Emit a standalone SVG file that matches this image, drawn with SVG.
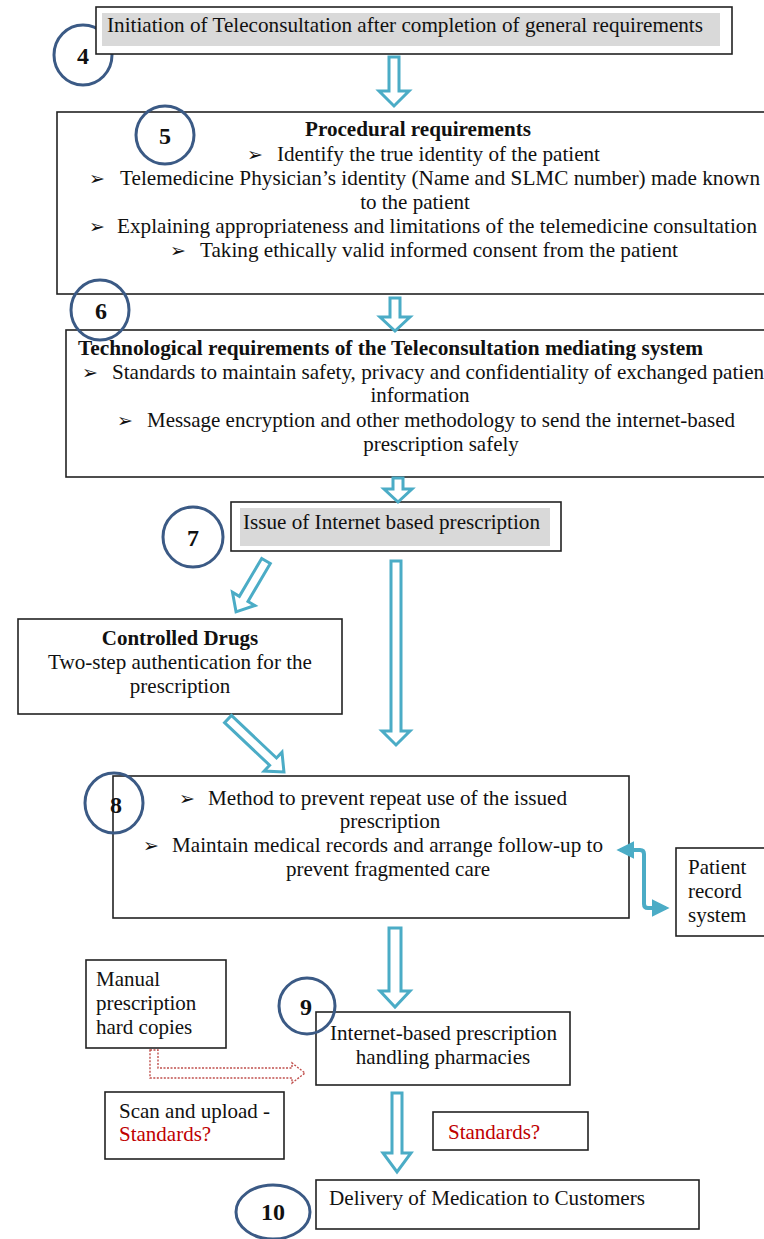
<svg xmlns="http://www.w3.org/2000/svg" width="764" height="1239" viewBox="0 0 764 1239">
<style>
.box{fill:#fff;stroke:#222;stroke-width:1.6}
.gray{fill:#d9d9d9}
.t{font-family:"Liberation Serif","Times New Roman",serif;font-size:21px;fill:#111}
.b{font-weight:bold}
.c{text-anchor:middle}
.red{fill:#c00000}
.bul{font-family:"DejaVu Sans",sans-serif;font-size:19px;fill:#111}
.num{font-family:"Liberation Serif",serif;font-size:24px;font-weight:bold;fill:#111;text-anchor:middle}
.circ{fill:none;stroke:#3b5a85;stroke-width:3}
.arr{fill:#fff;stroke:#4bacc6;stroke-width:3;stroke-linejoin:miter}
.conn{fill:none;stroke:#4bacc6;stroke-width:4}
.dot{fill:none;stroke:#c0504d;stroke-width:1.4;stroke-dasharray:2 1.5}
</style>
<defs>
<marker id="tri" viewBox="0 0 10 10" refX="8" refY="5" markerWidth="4.5" markerHeight="4.5" orient="auto-start-reverse" markerUnits="strokeWidth">
<path d="M0,0 L10,5 L0,10 Z" fill="#4bacc6"/>
</marker>
</defs>

<g id="n4">
<ellipse class="circ" cx="83" cy="55" rx="29" ry="30"/>
<text class="num" x="83" y="64">4</text>
<rect class="box" x="96" y="7" width="636" height="47"/>
<rect class="gray" x="102" y="13" width="618" height="33"/>
<text class="t" x="107" y="32" textLength="596" lengthAdjust="spacingAndGlyphs">Initiation of Teleconsultation after completion of general requirements</text>
</g>

<g id="n5">
<rect class="box" x="57" y="112" width="720" height="182"/>
<ellipse class="circ" cx="165" cy="135" rx="29" ry="29"/>
<text class="num" x="165" y="144">5</text>
<text class="t b" x="305" y="136" textLength="226" lengthAdjust="spacingAndGlyphs">Procedural requirements</text>
<text class="bul" x="247" y="161">➢</text>
<text class="t" x="277" y="161" textLength="323" lengthAdjust="spacingAndGlyphs">Identify the true identity of the patient</text>
<text class="bul" x="89" y="185">➢</text>
<text class="t" x="120" y="185" textLength="640" lengthAdjust="spacingAndGlyphs">Telemedicine Physician’s identity (Name and SLMC number) made known</text>
<text class="t c" x="415" y="209">to the patient</text>
<text class="bul" x="89" y="233">➢</text>
<text class="t" x="117" y="233" textLength="640" lengthAdjust="spacingAndGlyphs">Explaining appropriateness and limitations of the telemedicine consultation</text>
<text class="bul" x="170" y="257">➢</text>
<text class="t" x="200" y="257" textLength="478" lengthAdjust="spacingAndGlyphs">Taking ethically valid informed consent from the patient</text>
</g>

<g id="n6">
<rect class="box" x="66" y="330" width="711" height="147"/>
<ellipse class="circ" cx="100" cy="310" rx="29" ry="30"/>
<text class="num" x="101" y="319">6</text>
<text class="t b" x="78" y="355" textLength="625" lengthAdjust="spacingAndGlyphs">Technological requirements of the Teleconsultation mediating system</text>
<text class="bul" x="82" y="379">➢</text>
<text class="t" x="112" y="379" textLength="658" lengthAdjust="spacingAndGlyphs">Standards to maintain safety, privacy and confidentiality of exchanged patient</text>
<text class="t c" x="420" y="402">information</text>
<text class="bul" x="117" y="427">➢</text>
<text class="t" x="147" y="427" textLength="588" lengthAdjust="spacingAndGlyphs">Message encryption and other methodology to send the internet-based</text>
<text class="t c" x="441" y="451">prescription safely</text>
</g>

<g id="n7">
<ellipse class="circ" cx="193" cy="537" rx="30" ry="30"/>
<text class="num" x="193" y="546">7</text>
<rect class="box" x="231" y="502" width="330" height="49"/>
<rect class="gray" x="240" y="508" width="310" height="38"/>
<text class="t" x="243" y="529" textLength="297" lengthAdjust="spacingAndGlyphs">Issue of Internet based prescription</text>
</g>

<g id="controlled">
<rect class="box" x="18" y="619" width="324" height="95"/>
<text class="t b c" x="180" y="645">Controlled Drugs</text>
<text class="t" x="48" y="669" textLength="264" lengthAdjust="spacingAndGlyphs">Two-step authentication for the</text>
<text class="t c" x="180" y="693">prescription</text>
</g>

<g id="n8">
<rect class="box" x="113" y="776" width="516" height="142"/>
<ellipse class="circ" cx="114" cy="803" rx="29" ry="30"/>
<text class="num" x="116" y="813">8</text>
<text class="bul" x="179" y="805">➢</text>
<text class="t" x="208" y="805" textLength="359" lengthAdjust="spacingAndGlyphs">Method to prevent repeat use of the issued</text>
<text class="t c" x="390" y="828">prescription</text>
<text class="bul" x="143" y="852">➢</text>
<text class="t" x="172" y="852" textLength="431" lengthAdjust="spacingAndGlyphs">Maintain medical records and arrange follow-up to</text>
<text class="t c" x="388" y="876">prevent fragmented care</text>
</g>

<g id="patient">
<rect class="box" x="676" y="848" width="95" height="88"/>
<text class="t" x="688" y="874">Patient</text>
<text class="t" x="688" y="898">record</text>
<text class="t" x="688" y="922">system</text>
</g>

<g id="manual">
<rect class="box" x="86" y="960" width="140" height="88"/>
<text class="t" x="96" y="986">Manual</text>
<text class="t" x="96" y="1010">prescription</text>
<text class="t" x="96" y="1034">hard copies</text>
</g>

<g id="n9">
<rect class="box" x="316" y="1012" width="254" height="73"/>
<ellipse class="circ" cx="307" cy="1006" rx="28" ry="28"/>
<text class="num" x="306" y="1015">9</text>
<text class="t" x="330" y="1040" textLength="227" lengthAdjust="spacingAndGlyphs">Internet-based prescription</text>
<text class="t c" x="443" y="1064">handling pharmacies</text>
</g>

<g id="scan">
<rect class="box" x="105" y="1092" width="179" height="67"/>
<text class="t" x="119" y="1118">Scan and upload -</text>
<text class="t red" x="119" y="1141">Standards?</text>
</g>

<g id="standards">
<rect class="box" x="433" y="1112" width="155" height="38"/>
<text class="t red" x="448" y="1139">Standards?</text>
</g>

<g id="n10">
<ellipse class="circ" cx="273" cy="1212" rx="37" ry="27"/>
<text class="num" x="273" y="1220">10</text>
<rect class="box" x="316" y="1180" width="383" height="49"/>
<text class="t" x="329" y="1205" textLength="316" lengthAdjust="spacingAndGlyphs">Delivery of Medication to Customers</text>
</g>

<g id="connectors">
<path class="arr" d="M389,57 H399 V91 H409 L394,106 L379,91 H389 Z"/>
<path class="arr" d="M390,298 H400 V317 H410 L395,331 L380,317 H390 Z"/>
<path class="arr" d="M393,478 H403 V489 H412 L398,502 L384,489 H393 Z"/>
<path class="arr" d="M391,561 H401 V731 H410 L396,745 L382,731 H391 Z"/>
<path class="arr" d="M389,928 H401 V991 H410 L395,1007 L380,991 H389 Z"/>
<path class="arr" d="M392,1093 H402 V1153 H411 L397,1172 L383,1153 H392 Z"/>
<path class="arr" transform="translate(266,561) rotate(120.5)" d="M0,-5 H44 V-13 L59,0 L44,13 V5 H0 Z"/>
<path class="arr" transform="translate(228,719) rotate(43.4)" d="M0,-5 H62 V-13 L77,0 L62,13 V5 H0 Z"/>
<path class="conn" d="M620,850 H640 Q644,850 644,854 V904 Q644,908 648,908 H666" marker-start="url(#tri)" marker-end="url(#tri)"/>
<path class="dot" d="M150,1050 H158 V1068 H292 V1063 L305,1073 L292,1083 V1078 H150 Z"/>
</g>
</svg>
